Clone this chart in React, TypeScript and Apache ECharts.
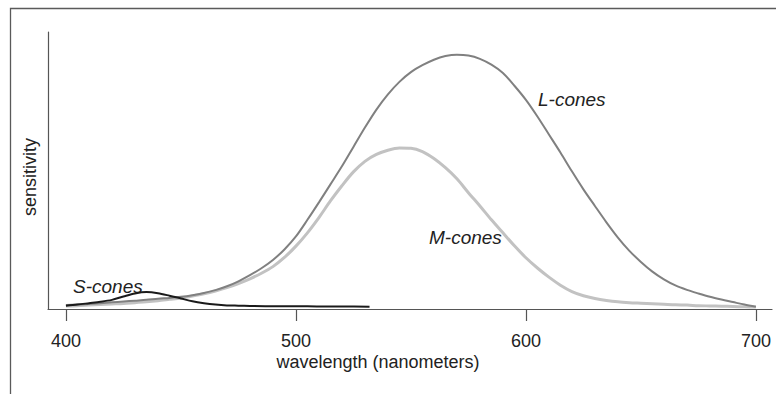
import React, { useEffect, useRef } from "react";
import * as echarts from "echarts";

const wavelengths = [
  400, 405, 410, 415, 420, 425, 430, 435, 440, 445, 450, 455, 460, 465, 470, 475, 480, 485, 490, 495,
  500, 505, 510, 515, 520, 525, 530, 535, 540, 545, 550, 555, 560, 565, 570, 575, 580, 585, 590, 595,
  600, 605, 610, 615, 620, 625, 630, 635, 640, 645, 650, 655, 660, 665, 670, 675, 680, 685, 690, 695, 700,
];
const lCones = [
  0.014, 0.016, 0.018, 0.021, 0.024, 0.027, 0.03, 0.033, 0.037, 0.04, 0.044, 0.05, 0.058, 0.068, 0.082, 0.1, 0.122, 0.147, 0.177, 0.215,
  0.262, 0.322, 0.385, 0.45, 0.515, 0.585, 0.655, 0.72, 0.775, 0.82, 0.855, 0.88, 0.9, 0.913, 0.918, 0.915, 0.903, 0.882, 0.852, 0.806,
  0.755, 0.695, 0.63, 0.565, 0.497, 0.432, 0.372, 0.313, 0.258, 0.21, 0.17, 0.135, 0.107, 0.085, 0.069, 0.056, 0.044, 0.034, 0.025, 0.016, 0.008,
];
const mCones = [
  0.011, 0.012, 0.014, 0.016, 0.018, 0.02, 0.023, 0.026, 0.03, 0.035, 0.04, 0.047, 0.055, 0.065, 0.077, 0.092, 0.109, 0.129, 0.153, 0.186,
  0.227, 0.275, 0.33, 0.39, 0.445, 0.495, 0.533, 0.558, 0.573, 0.581, 0.58, 0.568, 0.543, 0.51, 0.47, 0.42, 0.372, 0.322, 0.275, 0.228,
  0.185, 0.148, 0.115, 0.086, 0.063, 0.048, 0.038, 0.031, 0.026, 0.023, 0.021, 0.019, 0.017, 0.015, 0.014, 0.012, 0.011, 0.01, 0.009, 0.008, 0.007,
];
const sWavelengths = [400, 405, 410, 415, 420, 425, 430, 435, 440, 445, 450, 455, 460, 465, 470, 475, 480, 490, 500, 510, 520, 532];
const sCones = [0.012, 0.016, 0.021, 0.026, 0.033, 0.045, 0.056, 0.061, 0.057, 0.048, 0.038, 0.028, 0.021, 0.016, 0.013, 0.012, 0.011, 0.01, 0.01, 0.009, 0.009, 0.008];
const xTicks = [400, 500, 600, 700];

const FONT = "'Liberation Sans', Arial, Helvetica, sans-serif";

export default function App() {
  const ref = useRef<HTMLDivElement>(null);
  useEffect(() => {
    document.body.style.margin = "0";
    const chart = echarts.init(ref.current!, null, { renderer: "svg" });
    const zip = (xs: number[], ys: number[]) => xs.map((x, i) => [x, ys[i]]);
    chart.setOption({
      animation: false,
      backgroundColor: "#ffffff",
      grid: { left: 48, right: 4, top: 32, bottom: 85 },
      xAxis: {
        type: "value",
        min: 392.2,
        max: 707,
        axisLine: { show: true, lineStyle: { color: "#555", width: 1.2 } },
        axisTick: { show: true, inside: false, length: 12, customValues: xTicks, lineStyle: { color: "#555", width: 1.2 } },
        axisLabel: { show: true, customValues: xTicks, margin: 23, fontSize: 18, color: "#222", fontFamily: FONT },
        splitLine: { show: false },
      },
      yAxis: {
        type: "value",
        min: 0,
        max: 1,
        axisLine: { show: true, lineStyle: { color: "#555", width: 1.2 } },
        axisTick: { show: false },
        axisLabel: { show: false },
        splitLine: { show: false },
      },
      series: [
        {
          name: "M-cones",
          type: "line",
          smooth: 0.3,
          showSymbol: false,
          data: zip(wavelengths, mCones),
          lineStyle: { color: "#c2c2c2", width: 3 },
          z: 2,
        },
        {
          name: "L-cones",
          type: "line",
          smooth: 0.3,
          showSymbol: false,
          data: zip(wavelengths, lCones),
          lineStyle: { color: "#808080", width: 2 },
          z: 3,
        },
        {
          name: "S-cones",
          type: "line",
          smooth: 0.3,
          showSymbol: false,
          data: zip(sWavelengths, sCones),
          lineStyle: { color: "#1a1a1a", width: 2 },
          z: 4,
        },
      ],
      graphic: [
        {
          type: "rect",
          shape: { x: 10.5, y: 8.5, width: 800, height: 420 },
          style: { fill: "none", stroke: "#5a5a5a", lineWidth: 1.3 },
          silent: true,
        },
        {
          type: "text",
          x: 378,
          y: 362,
          style: { text: "wavelength (nanometers)", fontSize: 18, fontFamily: FONT, fill: "#222", align: "center", verticalAlign: "middle" },
        },
        {
          type: "text",
          x: 30,
          y: 177,
          rotation: Math.PI / 2,
          style: { text: "sensitivity", fontSize: 18, fontFamily: FONT, fill: "#222", align: "center", verticalAlign: "middle" },
        },
        {
          type: "text",
          x: 538,
          y: 99,
          style: { text: "L-cones", fontSize: 19, fontStyle: "italic", fontFamily: FONT, fill: "#222", align: "left", verticalAlign: "middle" },
        },
        {
          type: "text",
          x: 429,
          y: 237,
          style: { text: "M-cones", fontSize: 19, fontStyle: "italic", fontFamily: FONT, fill: "#222", align: "left", verticalAlign: "middle" },
        },
        {
          type: "text",
          x: 73,
          y: 286,
          style: { text: "S-cones", fontSize: 19, fontStyle: "italic", fontFamily: FONT, fill: "#222", align: "left", verticalAlign: "middle" },
        },
      ],
    });
    return () => chart.dispose();
  }, []);
  return <div ref={ref} style={{ width: 776, height: 394 }} />;
}
